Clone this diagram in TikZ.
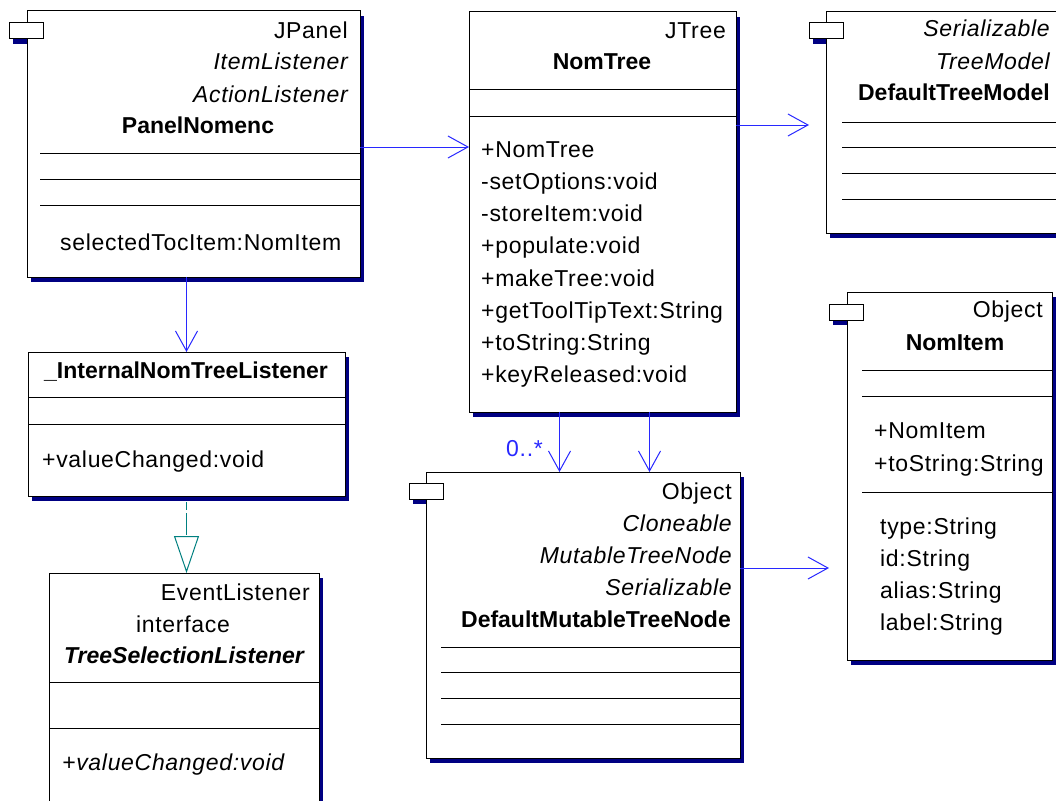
\documentclass[tikz,border=0pt]{standalone}
\usepackage{fontspec}
\setmainfont{Liberation Sans}[LetterSpace=3,BoldFeatures={LetterSpace=0},BoldItalicFeatures={LetterSpace=0}]
\usetikzlibrary{arrows.meta,backgrounds}
\definecolor{umlBlue}{RGB}{40,40,255}
\definecolor{umlNavy}{RGB}{0,0,130}
\definecolor{umlTeal}{RGB}{0,128,128}
\newcommand\umlfont{\fontsize{23}{28}\selectfont}
\tikzset{
  classbox/.style={draw=black, line width=1pt, fill=white, inner sep=0pt, outer sep=0pt, anchor=north west},
  tabbox/.style={classbox, minimum width=34pt, minimum height=16pt},
  divider/.style={draw=black, line width=1pt},
  stereo/.style={anchor=base east, inner sep=0pt, font=\umlfont},
  iface/.style={anchor=base east, inner sep=0pt, font=\umlfont\itshape},
  clsname/.style={anchor=base, inner sep=0pt, font=\umlfont\bfseries},
  member/.style={anchor=base west, inner sep=0pt, font=\umlfont},
  assoc/.style={draw=umlBlue, line width=1pt, -{Straight Barb[length=20pt,width=22pt]}},
  realize/.style={draw=umlTeal, line width=1pt, dash pattern=on 8pt off 3pt on 22pt off 3pt,
    -{Triangle[open,length=37pt,width=25pt]}},
  mult/.style={anchor=base east, inner sep=0pt, text=umlBlue, font=\umlfont}
}

\begin{document}
\begin{tikzpicture}[x=1pt,y=-1pt]
  \useasboundingbox (0,0) rectangle (1056,800);

  % class boxes
  \node[classbox, minimum width=333pt, minimum height=266pt] (panel) at (27,11) {};
  \node[classbox, minimum width=267pt, minimum height=400pt] (tree) at (469,12) {};
  \node[classbox, minimum width=240pt, minimum height=221pt] (model) at (826,12) {};
  \node[classbox, minimum width=205pt, minimum height=368pt] (item) at (847,292) {};
  \node[classbox, minimum width=317pt, minimum height=144pt] (listener) at (28,352) {};
  \node[classbox, minimum width=270pt, minimum height=240pt] (selif) at (49,573) {};
  \node[classbox, minimum width=314pt, minimum height=286pt] (treenode) at (426,472) {};

  % library tabs
  \node[tabbox] (panelTab) at ([shift={(-18,12)}]panel.north west) {};
  \node[tabbox] (modelTab) at ([shift={(-17,11)}]model.north west) {};
  \node[tabbox] (itemTab) at ([shift={(-18,12)}]item.north west) {};
  \node[tabbox] (treenodeTab) at ([shift={(-17,11)}]treenode.north west) {};

  % PanelNomenc
  \node[stereo] (panelS1) at (348,39) {JPanel};
  \node[iface] (panelS2) at (348,70) {ItemListener};
  \node[iface] (panelS3) at (348,102) {ActionListener};
  \node[clsname] (panelN) at (198,133) {PanelNomenc};
  \draw[divider] (40,153) -- (360,153);
  \draw[divider] (40,179) -- (360,179);
  \draw[divider] (40,205) -- (360,205);
  \node[member] (panelA1) at (60,250) {selectedTocItem:NomItem};

  % NomTree
  \node[stereo] (treeS1) at (726,38) {JTree};
  \node[clsname] (treeN) at (602,70) {NomTree};
  \draw[divider] (469,89) -- (736,89);
  \draw[divider] (469,116) -- (736,116);
  \node[member] (treeM1) at (481,157) {+NomTree};
  \node[member] (treeM2) at (481,189) {-setOptions:void};
  \node[member] (treeM3) at (481,221) {-storeItem:void};
  \node[member] (treeM4) at (481,253) {+populate:void};
  \node[member] (treeM5) at (481,286) {+makeTree:void};
  \node[member] (treeM6) at (481,318) {+getToolTipText:String};
  \node[member] (treeM7) at (481,350) {+toString:String};
  \node[member] (treeM8) at (481,382) {+keyReleased:void};

  % DefaultTreeModel
  \node[iface] (modelS1) at (1050,37) {Serializable};
  \node[iface] (modelS2) at (1050,69) {TreeModel};
  \node[clsname, anchor=base east] (modelN) at (1050,100) {DefaultTreeModel};
  \draw[divider] (842,122) -- (1066,122);
  \draw[divider] (842,147) -- (1066,147);
  \draw[divider] (842,173) -- (1066,173);
  \draw[divider] (842,199) -- (1066,199);

  % NomItem
  \node[stereo] (itemS1) at (1043,317) {Object};
  \node[clsname] (itemN) at (955,350) {NomItem};
  \draw[divider] (862,370) -- (1052,370);
  \draw[divider] (862,396) -- (1052,396);
  \draw[divider] (862,492) -- (1052,492);
  \node[member] (itemM1) at (874,438) {+NomItem};
  \node[member] (itemM2) at (874,471) {+toString:String};
  \node[member] (itemA1) at (880,534) {type:String};
  \node[member] (itemA2) at (880,566) {id:String};
  \node[member] (itemA3) at (880,598) {alias:String};
  \node[member] (itemA4) at (880,630) {label:String};

  % _InternalNomTreeListener
  \node[clsname] (listenerN) at (186,378) {\_InternalNomTreeListener};
  \draw[divider] (28,397) -- (345,397);
  \draw[divider] (28,424) -- (345,424);
  \node[member] (listenerM1) at (42,467) {+valueChanged:void};

  % TreeSelectionListener
  \node[stereo] (selifS1) at (310,600) {EventListener};
  \node[clsname, font=\umlfont] (selifS2) at (183,632) {interface};
  \node[clsname, font=\umlfont\bfseries\itshape] (selifN) at (184,663) {TreeSelectionListener};
  \draw[divider] (49,682) -- (319,682);
  \draw[divider] (49,728) -- (319,728);
  \node[member, font=\umlfont\itshape] (selifM1) at (62,770) {+valueChanged:void};

  % DefaultMutableTreeNode
  \node[stereo] (treenodeS1) at (732,499) {Object};
  \node[iface] (treenodeS2) at (732,531) {Cloneable};
  \node[iface] (treenodeS3) at (732,563) {MutableTreeNode};
  \node[iface] (treenodeS4) at (732,595) {Serializable};
  \node[clsname, anchor=base east] (treenodeN) at (731,627) {DefaultMutableTreeNode};
  \draw[divider] (441,647) -- (740,647);
  \draw[divider] (441,672) -- (740,672);
  \draw[divider] (441,698) -- (740,698);
  \draw[divider] (441,724) -- (740,724);

  % associations
  \draw[assoc] ([yshift=-3pt]panel.east) -- ([yshift=-3pt]panel.east -| tree.west);
  \draw[assoc] ([yshift=-113pt]tree.north east) -- ([yshift=-113pt]tree.north east -| modelTab.west);
  \draw[assoc] (listener.north |- panel.south) -- (listener.north);
  \draw[assoc] ([xshift=-43pt]tree.south) -- ([xshift=-43pt]tree.south |- treenode.north);
  \draw[assoc] ([xshift=47pt]tree.south) -- ([xshift=47pt]tree.south |- treenode.north);
  \draw[assoc] ([yshift=-96pt]treenode.north east) -- ([yshift=-96pt]treenode.north east -| itemTab.west);
  \node[mult] (multi) at (543,456) {0..*};

  % realization
  \draw[realize, shorten <=6pt] (listener.south) -- (listener.south |- selif.north);

  % page and drop shadows
  \begin{scope}[on background layer]
    \fill[white] (0,0) rectangle (1056,800);
    \foreach \n in {panel,panelTab,tree,model,modelTab,item,itemTab,listener,selif,treenode,treenodeTab}
      \fill[umlNavy] ([shift={(4,5)}]\n.north west) rectangle ([shift={(4,5)}]\n.south east);
  \end{scope}
\end{tikzpicture}
\end{document}
